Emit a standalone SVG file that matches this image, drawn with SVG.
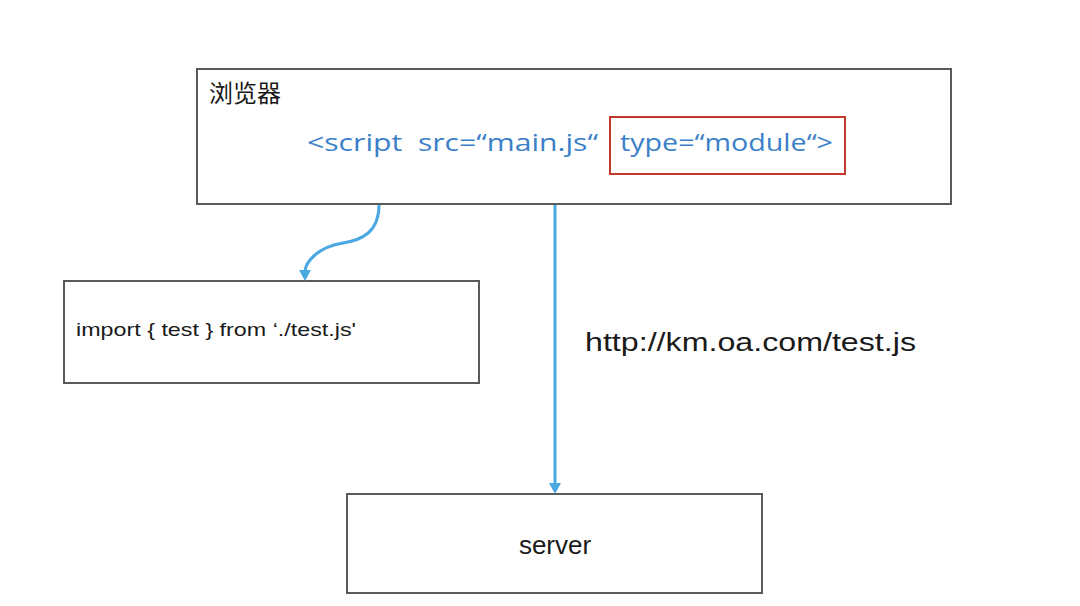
<svg xmlns="http://www.w3.org/2000/svg" width="1080" height="606" viewBox="0 0 1080 606">
<style>
.box{fill:#fff;stroke:#5a5a5a;stroke-width:2}
.lbl{font-family:"Liberation Sans","DejaVu Sans",sans-serif;fill:#1a1a1a}
.code{font-family:"Open Sans","DejaVu Sans",sans-serif;font-size:24px;fill:#3a7fc8}
.conn{fill:none;stroke:#4aa8e2;stroke-width:3}
.head{fill:#4aa8e2}
</style>
<rect width="1080" height="606" fill="#fff"/>
<g id="browser">
<rect class="box" x="197" y="69" width="754" height="135"/>
<text x="209" y="102" font-family="'Noto Sans CJK SC',sans-serif" font-size="24" fill="#1a1a1a">浏览器</text>
<rect x="610" y="117" width="235" height="57" fill="none" stroke="#c0392b" stroke-width="2"/>
<text class="code" x="307" y="151" xml:space="preserve" textLength="291" lengthAdjust="spacingAndGlyphs">&lt;script  src=“main.js“</text>
<text class="code" x="620" y="151" textLength="213" lengthAdjust="spacingAndGlyphs">type=“module“&gt;</text>
</g>
<g id="import">
<rect class="box" x="64" y="281" width="415" height="102"/>
<text class="lbl" x="76" y="336" font-size="19" textLength="280" lengthAdjust="spacingAndGlyphs">import { test } from ‘./test.js'</text>
</g>
<g id="server">
<rect class="box" x="347" y="494" width="415" height="99"/>
<text class="lbl" x="555" y="554" font-size="26" text-anchor="middle">server</text>
</g>
<g id="url">
<text class="lbl" x="585" y="351" font-size="26" textLength="331" lengthAdjust="spacingAndGlyphs">http://km.oa.com/test.js</text>
</g>
<g id="connectors">
<path class="conn" d="M379,205 C379,232 362,240 343,243 C318,247 305,262 305,272"/>
<path class="head" d="M299,270 L305,281 L311,270 Z"/>
<line class="conn" x1="555" y1="205" x2="555" y2="485"/>
<path class="head" d="M549,483 L555,494 L561,483 Z"/>
</g>
</svg>
